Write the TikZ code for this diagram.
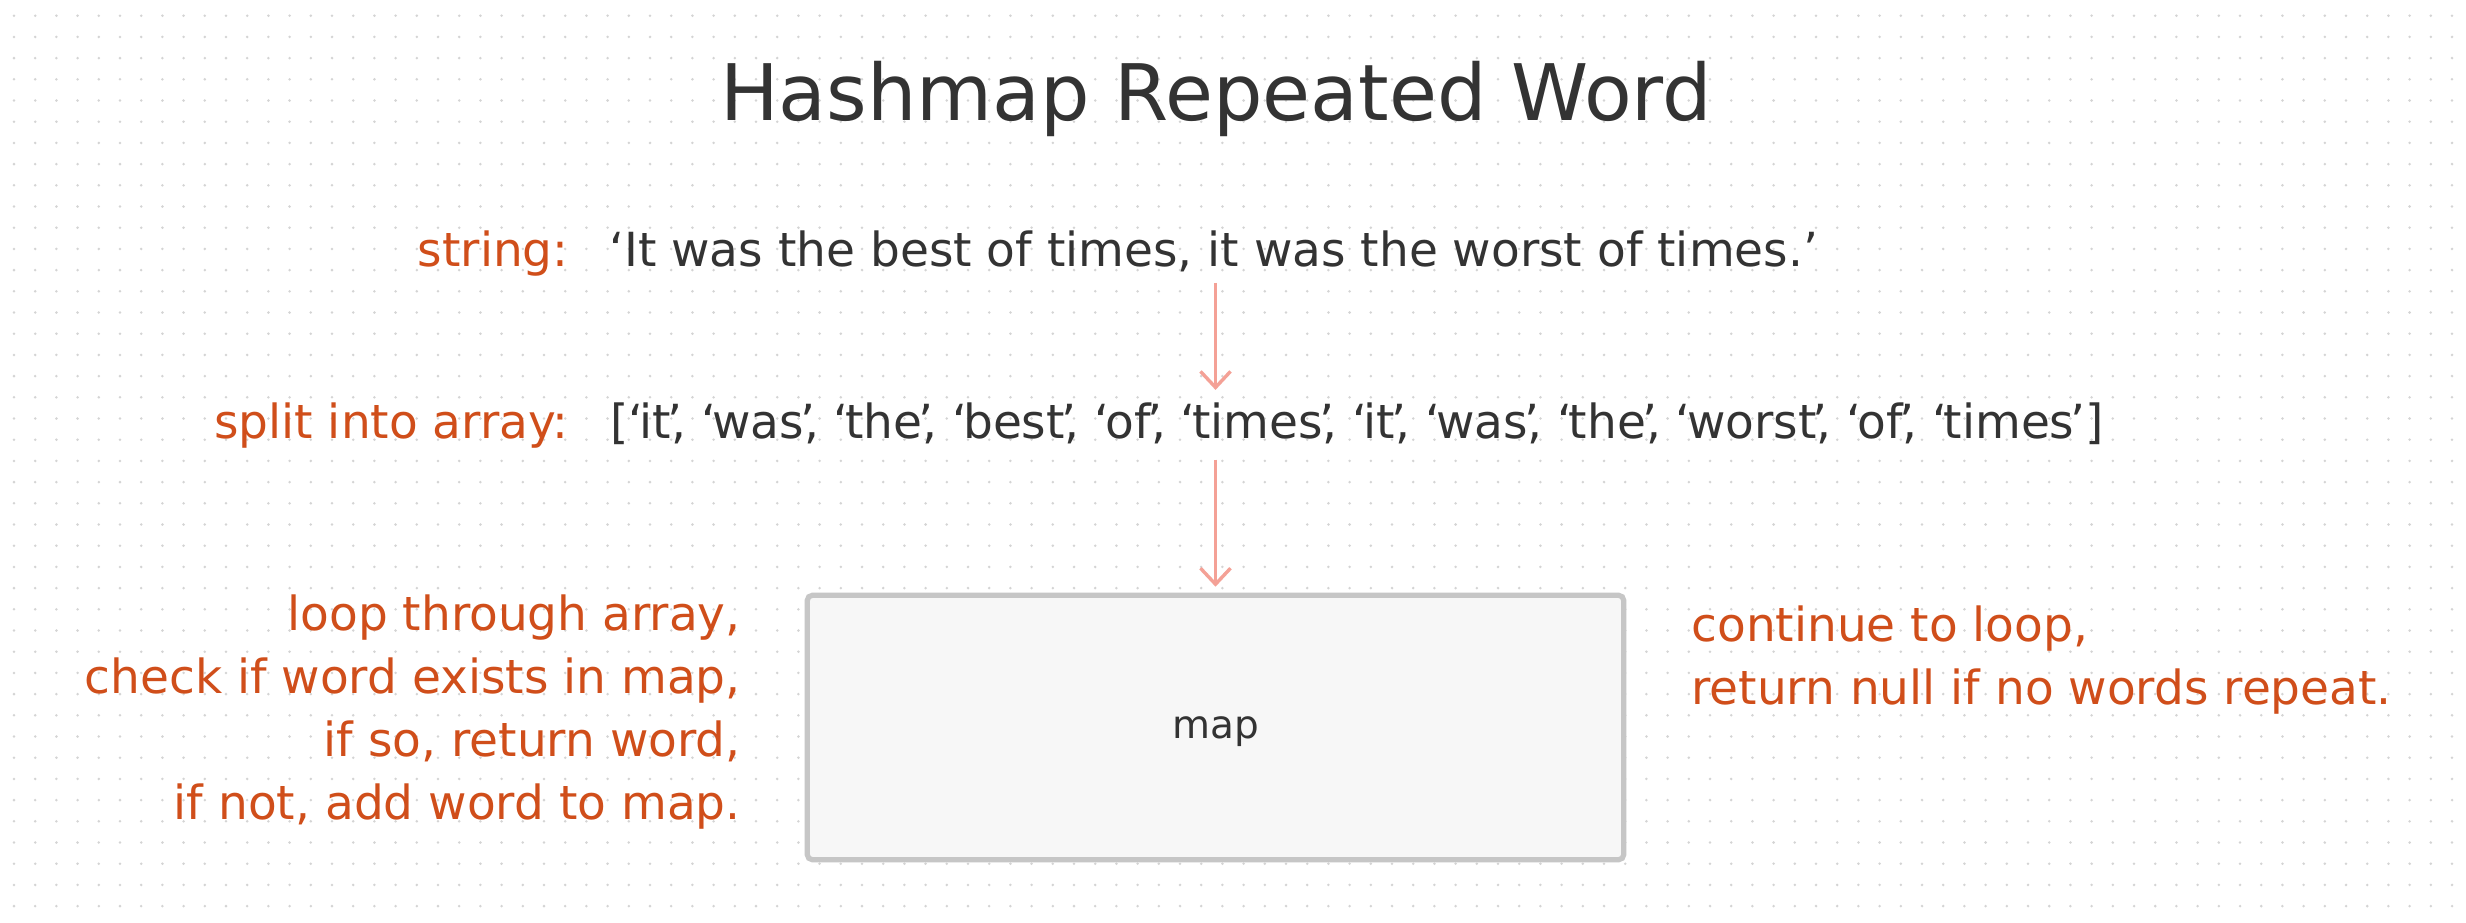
\documentclass[tikz,border=0pt]{standalone}
\usepackage{fontspec}
\setmainfont{DejaVu Sans}
\usetikzlibrary{arrows.meta,calc}
\definecolor{inktext}{HTML}{333333}
\definecolor{inkorange}{HTML}{D04E1A}
\definecolor{inkarrow}{HTML}{F4A196}
\definecolor{dotgray}{HTML}{D4D4D4}
\definecolor{boxline}{HTML}{C6C6C6}
\definecolor{boxfill}{HTML}{F7F7F7}
\newcommand{\qt}[1]{‘\kern-.08em#1\kern-.08em’}
\newcommand{\qc}[1]{\qt{#1}\kern-.24em,}

\begin{document}
\begin{tikzpicture}[x=0.5pt,y=-0.5pt,
    keytext/.style={text=inkorange,font=\fontsize{23.5}{31.5}\selectfont,inner sep=0pt},
    valtext/.style={text=inktext,font=\fontsize{23.5}{31.5}\selectfont,inner sep=0pt},
    flow/.style={draw=inkarrow,line width=1.7pt,-{Straight Barb[length=8pt,width=15pt]}}]
        \useasboundingbox[fill=white] (0,0) rectangle (2466,922);
        % dotted background
        \foreach \i in {0,...,115}
          \foreach \j in {0,...,42}
            \fill[dotgray] (14+21.2*\i,15.7+21.2*\j) circle (1.4);
        \node[text=inktext,font=\fontsize{39}{45}\selectfont,inner sep=0pt,anchor=base] (title) at (1216,120) {Hashmap Repeated Word};
        \node[keytext,anchor=base east] (strkey) at (569,266) {string:};
        \node[valtext,anchor=base west] (strtext) at (609,266) {‘It was the best of times, it was the worst of times.’};
        \node[keytext,anchor=base east] (arrkey) at (569,438) {split into array:};
        \node[valtext,anchor=base west] (arrtext) at (610,438) {[\qc{it} \qc{was} \qc{the} \qc{best} \qc{of} \qc{times} \qc{it} \qc{was} \qc{the} \qc{worst} \qc{of} \qt{times}]};
        \node[draw=boxline,fill=boxfill,line width=2.6pt,rounded corners=2.5pt,minimum width=408.2pt,minimum height=132.2pt,
          text=inktext,font=\fontsize{19.5}{24}\selectfont,text depth=0pt] (mapbox) at (1215.5,727.5) {map};
        \node[keytext,align=right,anchor=base east] (loopnote) at (741,819) {loop through array,\\check if word exists in map,\\if so, return word,\\if not, add word to map.};
        \node[keytext,align=left,anchor=base west] (endnote) at (1691,704) {continue to loop,\\return null if no words repeat.};
        \draw[flow] ($(strtext.south -| mapbox.north)+(0,11)$) -- ($(arrtext.north -| mapbox.north)+(0,-12)$);
        \draw[flow] ($(arrtext.south -| mapbox.north)+(0,15)$) -- ($(mapbox.north)+(0,-6)$);
      \end{tikzpicture}
\end{document}
